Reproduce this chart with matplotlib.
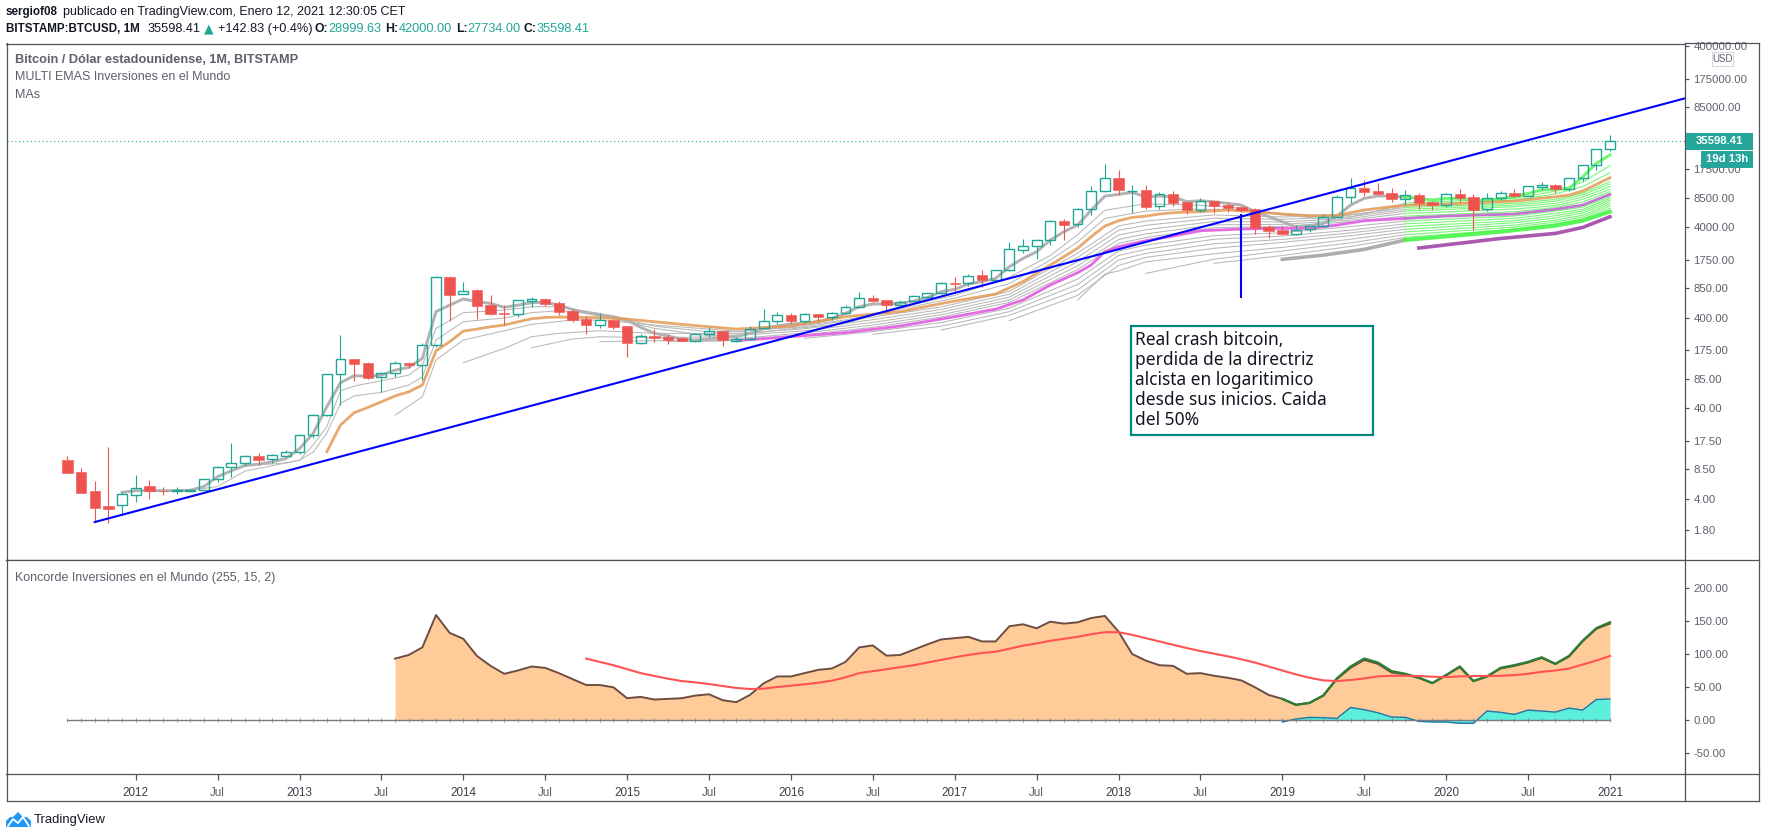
import numpy as np
import matplotlib
matplotlib.use("Agg")
import matplotlib.pyplot as plt
from matplotlib.lines import Line2D
from matplotlib.patches import Polygon, Rectangle
from matplotlib.ticker import FixedLocator, FixedFormatter, NullLocator

plt.rcParams['font.family'] = ['Liberation Sans', 'DejaVu Sans']

W, H = 1766, 838

# velas mensuales, mes 0 = enero 2012
months = np.arange(-5, 109)
opens = [10.8, 7.9, 4.9, 3.35, 3.4,
         4.47, 5.57, 4.94, 4.85, 4.9, 5.1, 6.6, 9.1, 10.1, 12.1, 11, 12,
         13.1, 20.2, 33.5, 95, 139, 126, 88, 97.5, 126, 122, 202, 1120,
         726, 810, 555, 455, 445, 620, 645, 582, 475, 388, 336, 378,
         325, 213, 253, 245, 239, 224, 263, 284, 224, 234, 309, 372,
         427, 368, 438, 412, 448, 522, 665, 630, 555, 610, 686, 746,
         961, 961, 1188, 1047, 1336, 2260, 2455, 2890, 4690, 4300, 6410, 9980,
         13960, 9980, 10300, 6900, 9230, 7590, 6250, 7730, 7030, 6640, 6300, 3990,
         3760, 3400, 3790, 4090, 5240, 8550, 10840, 9950, 9560, 8270, 9080, 7590,
         7100, 9230, 8610, 6410, 8420, 9470, 8850, 11220, 11590, 10640, 13870, 19600,
         28999.63]
highs = [11.9, 8.8, 6.3, 15, 4.8,
         7.4, 6.5, 5.4, 5.4, 5.2, 6.7, 9.2, 16.6, 12.4, 12.9, 12.6, 13.9,
         20.8, 34.7, 96, 258, 141, 130, 100, 133, 131, 210, 1156, 1160,
         985, 830, 714, 555, 630, 680, 655, 613, 500, 417, 449, 384,
         327, 265, 301, 263, 245, 269, 316, 288, 248, 328, 502, 464,
         456, 449, 445, 467, 552, 766, 716, 635, 625, 710, 755, 986,
         1130, 1225, 1350, 1340, 2730, 2965, 2945, 4760, 4900, 6500, 11400, 19950,
         17130, 11700, 11700, 9730, 10000, 7770, 8420, 7760, 7400, 6800, 6500, 4240,
         4170, 4200, 4090, 5600, 9080, 13870, 13270, 12300, 10840, 10300, 9470, 7850,
         9470, 10570, 9310, 9550, 10120, 10570, 11400, 12730, 12000, 14000, 19700, 29000,
         42000]
lows = [7.8, 4.7, 2.25, 2.2, 2.7,
        3.7, 4.0, 4.4, 4.5, 4.85, 5.1, 6.2, 7.0, 9.2, 9.4, 10.1, 11.8,
        12.6, 19, 33, 43.7, 81, 85, 61, 88, 111, 82, 190, 372,
        726, 388, 430, 333, 412, 525, 540, 430, 360, 265, 311, 300,
        148, 205, 218, 205, 222, 217, 248, 197, 218, 228, 299, 345,
        345, 355, 369, 379, 437, 510, 598, 449, 532, 605, 680, 735,
        747, 897, 880, 1040, 1320, 2060, 1795, 2570, 2890, 4020, 5460, 9900,
        9080, 5780, 6410, 6410, 6900, 5600, 5940, 5800, 5940, 5940, 3370, 3070,
        3280, 3310, 3550, 4050, 5200, 7350, 8850, 9000, 7650, 7030, 6350, 6200,
        6680, 7650, 3720, 5990, 7980, 8560, 8850, 10300, 9550, 10120, 13060, 17260,
        27734]
closes = [7.8, 4.7, 3.2, 3.1, 4.5,
          5.25, 4.9, 4.85, 5.0, 5.1, 6.6, 9.1, 10.1, 12.0, 10.8, 12.4, 13.1,
          20.2, 33.5, 95, 139, 125, 87, 97.5, 126, 122, 202, 1120, 720,
          795, 545, 440, 445, 624, 640, 568, 462, 380, 333, 376, 318,
          213, 250, 241, 227.5, 224, 263, 284, 226, 234, 301, 372, 427,
          368, 438, 410, 449, 522, 658, 614, 552, 604, 690, 746, 961,
          950, 1167, 1047, 1336, 2281, 2455, 2870, 4645, 4270, 6410, 9980, 13870,
          10200, 10160, 6760, 9230, 7460, 6190, 7730, 6920, 6510, 6190, 3920, 3630,
          3400, 3760, 4090, 5240, 8550, 10740, 9860, 9310, 8200, 9000, 7400, 7030,
          9230, 8340, 6200, 8470, 9470, 8850, 11300, 11590, 10570, 13870, 19600, 28970,
          35598.41]

# medias gruesas, precios
ema5_months = np.arange(-1, 94)
ema5 = [4.74, 4.95, 4.95, 4.95, 4.95, 5.0, 5.5, 7.06, 8.2, 9.4, 9.7, 10.3, 11.2,
        14.4, 21.2, 41.8, 77, 92, 91, 93.4, 106, 113.6, 143, 468, 553,
        646, 603, 578, 522, 553, 588, 593, 553, 495, 456, 430, 412,
        378, 314, 270, 252, 233, 228, 233, 244, 248, 270, 306, 325,
        342, 348, 363, 395, 449, 532, 569, 569, 578, 614, 668, 778,
        826, 946, 1004, 1092, 1466, 1811, 2147, 2890, 3570, 4230, 6190, 8830,
        9220, 9700, 8680, 8830, 8680, 7660, 7850, 7660, 7340, 7030, 5940, 5240,
        4600, 4050, 4160, 4410, 5320, 7030, 8340, 8850, 8850, 8600]
ema5_green_months = np.arange(93, 109)
ema5_green = [8600, 8340, 7990, 8340, 8340, 7990, 7850, 8340, 8690, 9460, 10300,
              10480, 10650, 14400, 20300, 25100]
ema20_months = [14, 15, 16, 17, 18, 19, 20, 21, 22, 23, 24, 25, 26, 27, 28, 29, 30, 31, 34,
                36, 40, 44, 48, 52, 56, 60, 63, 65, 67, 69, 70, 71, 72, 73, 74, 75, 76, 77,
                78, 80, 82, 84, 86, 88, 90, 92, 93, 96, 101, 104, 105, 106, 107, 108]
ema20 = [13.3, 26.2, 35.9, 41, 47.4, 55, 61, 72.5, 173, 218, 286, 301, 319, 333, 362, 391, 404, 408, 402,
         388, 339, 301, 325, 412, 469, 614, 733, 1005, 1531, 2344, 3148, 4120, 4720, 5140, 5310, 5600, 5780, 5890,
         5940, 6200, 5940, 5600, 5370, 5410, 6200, 6750, 6980, 7210, 7780, 8690, 9060, 10050, 11880, 14090]
ema50_months = [44, 48, 52, 56, 60, 63, 65, 67, 69, 70, 71, 72, 74, 76, 78, 81, 83, 86, 88, 90, 93,
                96, 101, 104, 106, 108]
ema50 = [224, 248, 275, 325, 412, 500, 630, 922, 1260, 1531, 2152, 2440, 2840, 3200, 3660, 3820, 3890, 3890,
         4230, 4720, 5010, 5320, 5600, 6310, 7030, 9220]
ema100_months = [94, 100, 104, 106, 108]
ema100 = [2360, 3010, 3420, 3980, 5220]
ema90_months = [84, 87, 90, 93, 100, 104, 106, 108]
ema90 = [1770, 1970, 2280, 2890, 3570, 4160, 4720, 5940]

# medias finas: mes y log10 del precio
ema10_months = [4, 6, 8, 11, 12, 13, 14, 15, 16, 17, 18, 20, 21, 22, 24, 27, 29, 31, 34, 35, 38, 42,
                44, 48, 52, 56, 60, 64, 67, 69, 71, 74, 77, 80, 84, 88, 92, 93, 101, 104, 106, 108]
ema10 = [.70, .74, .91, 1.0, 1.03, 1.2, 1.4, 1.797, 1.849, 1.879, 1.908, 1.97, 2.08, 2.486, 2.659, 2.688,
         2.725, 2.725, 2.651, 2.596, 2.486, 2.405, 2.413, 2.48, 2.54, 2.72, 2.85, 3.05, 3.29, 3.52, 3.79,
         3.86, 3.85, 3.83, 3.74, 3.68, 3.82, 3.87, 3.921, 4.0, 4.10, 4.281]
ema15_months = [9, 11, 12, 13, 14, 15, 16, 18, 20, 21, 22, 24, 27, 29, 31, 34, 38, 42, 44, 48, 52, 56,
                60, 64, 67, 69, 71, 74, 77, 80, 84, 88, 92, 93, 101, 104, 106, 108]
ema15 = [.98, 1.0, 1.03, 1.12, 1.33, 1.658, 1.74, 1.78, 1.86, 1.95, 2.357, 2.56, 2.60, 2.66, 2.68, 2.65,
         2.51, 2.449, 2.45, 2.50, 2.58, 2.70, 2.82, 2.98, 3.24, 3.44, 3.70, 3.78, 3.80, 3.80, 3.75, 3.72,
         3.80, 3.85, 3.902, 3.97, 4.05, 4.204]
tail_months = [44, 49, 54, 59, 64, 69, 72, 74, 79, 84, 89, 93, 101, 104, 106, 108]
ema25_months = [19, 21, 22, 24, 27, 29, 32, 34, 38, 43] + tail_months
ema25 = [1.529, 1.731, 2.136, 2.357, 2.46, 2.53, 2.578, 2.578, 2.523, 2.467,
         2.453, 2.504, 2.611, 2.722, 2.894, 3.316, 3.617, 3.671, 3.738, 3.716, 3.738, 3.82, 3.866, 3.91, 3.98, 4.105]
ema30_months = [24, 27, 29, 31, 34, 38, 43] + tail_months
ema30 = [2.107, 2.265, 2.394, 2.431, 2.46, 2.431, 2.431,
         2.431, 2.482, 2.582, 2.694, 2.863, 3.27, 3.568, 3.624, 3.702, 3.69, 3.719, 3.80, 3.847, 3.89, 3.96, 4.079]
ema35_months = [29, 32, 34, 38, 43] + tail_months
ema35 = [2.273, 2.368, 2.394, 2.383, 2.394,
         2.408, 2.459, 2.552, 2.664, 2.831, 3.222, 3.516, 3.575, 3.665, 3.661, 3.70, 3.78, 3.829, 3.865, 3.935, 4.05]
ema40_months = [34, 38, 43] + tail_months
ema40 = [2.339, 2.35, 2.346,
         2.372, 2.436, 2.523, 2.636, 2.80, 3.176, 3.467, 3.529, 3.629, 3.634, 3.681, 3.755, 3.803, 3.84, 3.91, 4.02]
ema45_months = [39, 43] + tail_months
ema45 = [2.34, 2.35,
         2.36, 2.417, 2.497, 2.611, 2.773, 3.135, 3.424, 3.488, 3.597, 3.611, 3.664, 3.725, 3.774, 3.82, 3.88, 3.994]
ema55_months = tail_months[1:]
ema55 = [2.376, 2.45, 2.55, 2.71, 3.03, 3.34, 3.405, 3.51, 3.542, 3.61, 3.67, 3.726, 3.78, 3.825, 3.939]
ema60_months = tail_months[2:]
ema60 = [2.42, 2.51, 2.67, 2.97, 3.29, 3.358, 3.47, 3.505, 3.57, 3.64, 3.70, 3.755, 3.80, 3.921]
ema65_months = tail_months[3:]
ema65 = [2.468, 2.63, 2.91, 3.24, 3.313, 3.42, 3.468, 3.54, 3.61, 3.674, 3.73, 3.78, 3.902]
ema70_months = tail_months[4:]
ema70 = [2.571, 2.85, 3.18, 3.27, 3.37, 3.435, 3.51, 3.58, 3.652, 3.705, 3.76, 3.88]
ema75_months = [69, 71] + tail_months[6:]
ema75 = [2.798, 3.086, 3.12, 3.22, 3.31, 3.38, 3.47, 3.55, 3.626, 3.68, 3.735, 3.858]
ema80_months = tail_months[7:]
ema80 = [3.093, 3.25, 3.34, 3.43, 3.52, 3.604, 3.66, 3.715, 3.836]
ema85_months = tail_months[8:]
ema85 = [3.203, 3.29, 3.39, 3.49, 3.582, 3.64, 3.695, 3.81]

# directriz y linea vertical
trend_months = [-3, 113.5]
trend_prices = [2.23, 106000]
crash_month = 81
crash_prices = [663, 5546]

# panel Koncorde
marron_months = np.arange(19, 109)
marron = [93, 98.5, 110, 159, 132, 123, 97, 82, 70, 75, 81, 79, 71, 62, 53, 53, 49.5,
          33, 35, 31, 32, 33, 37, 39, 30, 27, 38, 55.5, 66,
          66, 71, 76, 78, 88, 110, 113, 97.5, 98.5, 106.5, 114.6, 122,
          124, 126, 119, 119, 142, 145, 139, 149, 146, 148, 154.5, 157.6,
          134, 100, 90, 83, 82, 70, 71, 67, 64, 60, 49.5, 38,
          32, 23, 26, 37, 62, 79, 91, 85, 72, 69, 64, 56,
          68, 80, 59, 66, 78, 82, 87, 94, 85, 96, 119, 138,
          146]
verde_months = np.arange(84, 109)
verde = [32, 23, 26, 37, 63, 81, 93, 87, 74, 70, 64, 56,
         68, 81, 59, 66, 79, 83, 88, 95, 85, 97, 120, 139, 148]
media_months = np.arange(33, 109)
media = [93, 88, 83, 77, 71, 66.7, 62.6, 59, 57, 54.5, 51.5, 48.5, 47, 47.5, 50,
         52, 54, 56.5, 59.6, 64.6, 71, 74, 77, 80, 83, 87, 91,
         95, 98.5, 101.5, 103.5, 108, 112.6, 116, 120, 123, 126, 130, 133,
         133, 129, 124, 119, 114, 109, 104.5, 100.5, 96.5, 92, 87, 81,
         75, 69, 64, 60, 59, 60.6, 63, 66, 67, 67, 66.7, 65.6,
         65, 66, 66.7, 66.7, 67, 68, 70, 73, 75, 78, 84, 90, 97]
azul_months = np.arange(84, 109)
azul = [-3, 1.5, 4, 3.5, 2.5, 19, 15.6, 11, 4.5, 4, -2, -3,
        -3, -5, -5, 13.6, 11.6, 8.5, 15, 13.6, 12, 18, 15, 31, 32]

price_ticks = [400000, 175000, 85000, 17500, 8500, 4000, 1750, 850, 400, 175, 85, 40, 17.5, 8.5, 4, 1.8]
osc_ticks = [200, 150, 100, 50, 0, -50]
time_ticks = [0, 6, 12, 18, 24, 30, 36, 42, 48, 54, 60, 66, 72, 78, 84, 90, 96, 102, 108]
time_labels = ['2012', 'Jul', '2013', 'Jul', '2014', 'Jul', '2015', 'Jul', '2016', 'Jul',
               '2017', 'Jul', '2018', 'Jul', '2019', 'Jul', '2020', 'Jul', '2021']

UP = '#1fa695'
DOWN = '#ef5350'
FRAME = '#50535e'
TEXT = '#5d606b'
DARK = '#131722'
THIN = '#b8b8b8'
LIME = '#78f578'


def fx(x):
    return x / W


def fy(y):
    return 1 - y / H


def frame_line(x0, y0, x1, y1):
    fig.add_artist(Line2D([fx(x0), fx(x1)], [fy(y0), fy(y1)], color=FRAME, lw=0.9))


def put_text(x, y, s, **kw):
    fig.text(fx(x), fy(y), s, va='center', **kw)


def draw_thin(ms, logs):
    # hasta oct 2019 en gris, despues en verde
    ms = np.array(ms)
    prices = 10 ** np.array(logs)
    old = ms <= 93
    new = ms >= 93
    ax.plot(ms[old], prices[old], color=THIN, lw=0.75, zorder=3)
    ax.plot(ms[new], prices[new], color=LIME, lw=0.8, zorder=3)


fig = plt.figure(figsize=(W / 100, H / 100), dpi=100)
left, right = 6.5, 1685
ax = fig.add_axes([fx(left), fy(560), fx(right - left), (560 - 43.5) / H])
ax2 = fig.add_axes([fx(left), fy(774), fx(right - left), (774 - 560) / H])

# velas por encima de las medias, las verdes huecas
for m, o, h, l, c in zip(months, opens, highs, lows, closes):
    col = UP if c >= o else DOWN
    ax.vlines(m, max(o, c), h, color=col, lw=0.8, zorder=5.5)
    ax.vlines(m, l, min(o, c), color=col, lw=0.8, zorder=5.5)
    if c >= o:
        ax.bar(m, c - o, bottom=o, width=0.72, facecolor='none', edgecolor=col, lw=1.0, zorder=5.5)
    else:
        ax.bar(m, o - c, bottom=c, width=0.76, facecolor=col, edgecolor=col, lw=0.4, zorder=5.5)

for ms, vals in [(ema10_months, ema10), (ema15_months, ema15), (ema25_months, ema25),
                 (ema30_months, ema30), (ema35_months, ema35), (ema40_months, ema40),
                 (ema45_months, ema45), (ema55_months, ema55), (ema60_months, ema60),
                 (ema65_months, ema65), (ema70_months, ema70), (ema75_months, ema75),
                 (ema80_months, ema80), (ema85_months, ema85)]:
    draw_thin(ms, vals)

ax.plot(ema5_months, ema5, color='#b2b2b2', lw=2.1, zorder=4)
ax.plot(ema5_green_months, ema5_green, color='#55f555', lw=2.1, alpha=0.85, zorder=4)
ax.plot(ema20_months, ema20, color='#e39a55', lw=2.0, alpha=0.85, zorder=5)
ema50_arr = np.array(ema50)
ema50_m = np.array(ema50_months)
ax.plot(ema50_m[ema50_m <= 93], ema50_arr[ema50_m <= 93], color='#e36ae3', lw=2.0, zorder=5)
ax.plot(ema50_m[ema50_m >= 93], ema50_arr[ema50_m >= 93], color='#c275cf', lw=2.0, zorder=5)
ema90_m = np.array(ema90_months)
ema90_arr = np.array(ema90)
ax.plot(ema90_m[ema90_m <= 93], ema90_arr[ema90_m <= 93], color='#adadad', lw=2.6, zorder=4)
ax.plot(ema90_m[ema90_m >= 93], ema90_arr[ema90_m >= 93], color='#45f545', lw=2.8, alpha=0.9, zorder=4)
ax.plot(ema100_months, ema100, color='#ab58b0', lw=2.6, zorder=5)

ax.plot(trend_months, trend_prices, color='#0000ff', lw=1.5, zorder=6)
ax.vlines(crash_month, crash_prices[0], crash_prices[1], color='#0000ff', lw=1.5, zorder=6)
ax.axhline(closes[-1], color=UP, lw=0.8, ls=(0, (1, 2.5)), zorder=0)

ax.set_yscale('log')
ax.set_xlim(-9.465, 113.5)
ax.set_ylim(0.85, 427000)
ax.yaxis.set_major_locator(FixedLocator(price_ticks))
ax.yaxis.set_major_formatter(FixedFormatter(['%.2f' % p for p in price_ticks]))
ax.yaxis.set_minor_locator(NullLocator())
ax.yaxis.tick_right()
ax.tick_params(axis='y', length=3, width=0.9, color=FRAME, labelcolor=TEXT, labelsize=8.2, pad=3)
ax.set_xticks([])

# panel inferior
ax2.fill_between(marron_months, 0, marron, color='#ffcc99', lw=0, zorder=1)
ax2.plot(marron_months, marron, color='#6d4c41', lw=1.4, zorder=3)
ax2.plot(verde_months, verde, color='#2e7d32', lw=1.7, zorder=4)
ax2.fill_between(azul_months, 0, azul, color='#5cefdc', lw=0, zorder=2)
ax2.plot(azul_months, azul, color='#1976a8', lw=1.0, zorder=3)
ax2.plot(media_months, media, color='#ff5252', lw=1.5, zorder=5)
ax2.plot(months, np.zeros(len(months)), color='#787b86', lw=1.0, marker='|', ms=2.2, mew=0.5, zorder=4)
ax2.set_xlim(-9.465, 113.5)
ax2.set_ylim(-81.8, 242.4)
ax2.set_yticks(osc_ticks)
ax2.set_yticklabels(['%.2f' % v for v in osc_ticks])
ax2.yaxis.tick_right()
ax2.tick_params(axis='y', length=3, width=0.9, color=FRAME, labelcolor=TEXT, labelsize=8.2, pad=3)
ax2.set_xticks(time_ticks)
ax2.set_xticklabels(time_labels)
ax2.tick_params(axis='x', length=4, width=0.9, color=FRAME, labelcolor=TEXT, labelsize=8.4, pad=5)
for lab in ax2.get_xticklabels():
    if lab.get_text() != 'Jul':
        lab.set_color('#3c3f4a')

for a in (ax, ax2):
    for s in a.spines.values():
        s.set_color(FRAME)
        s.set_linewidth(0.9)

# marco exterior
frame_line(right, 43.5, 1759, 43.5)
frame_line(right, 560, 1759, 560)
frame_line(right, 774, 1759, 774)
frame_line(left, 801, 1759, 801)
frame_line(1759, 43.5, 1759, 801)
frame_line(left, 774, left, 801)
frame_line(right, 774, right, 801)

# cabecera
put_text(6, 12, 'sergiof08', fontsize=8.4, fontweight='bold', color=DARK)
put_text(63, 12, 'publicado en TradingView.com, Enero 12, 2021 12:30:05 CET', fontsize=9.0, color=DARK)
put_text(6, 29, 'BITSTAMP:BTCUSD, 1M', fontsize=8.4, fontweight='bold', color=DARK)
put_text(148, 29, '35598.41', fontsize=9.2, color=DARK)
put_text(204, 29, '▲', fontsize=9, color=UP, family=['DejaVu Sans'])
put_text(218, 29, '+142.83 (+0.4%)', fontsize=9.2, color=DARK)
for x0, lab, x1, val in [(314.6, 'O:', 328, '28999.63'), (385, 'H:', 399, '42000.00'),
                         (456, 'L:', 467.6, '27734.00'), (524, 'C:', 536.5, '35598.41')]:
    put_text(x0, 29, lab, fontsize=8.8, fontweight='bold', color=DARK)
    put_text(x1, 29, val, fontsize=9.2, color=UP)

put_text(15, 60, 'Bitcoin / Dólar estadounidense, 1M, BITSTAMP', fontsize=9.2, fontweight='bold', color=TEXT)
put_text(15, 77, 'MULTI EMAS Inversiones en el Mundo', fontsize=9.0, color=TEXT)
put_text(15, 94.6, 'MAs', fontsize=9.0, color=TEXT)
put_text(15, 577.7, 'Koncorde Inversiones en el Mundo (255, 15, 2)', fontsize=9.0, color=TEXT)

# etiquetas de precio
fig.add_artist(Rectangle((fx(1686), fy(150)), 67 / W, 17 / H, color='#26a69a', lw=0, zorder=10))
fig.add_artist(Rectangle((fx(1701), fy(168)), 52 / W, 17 / H, color='#26a69a', lw=0, zorder=10))
fig.text(fx(1719.5), fy(141.5), '35598.41', ha='center', va='center', fontsize=8.2, fontweight='bold', color='white', zorder=11)
fig.text(fx(1727), fy(159.5), '19d 13h', ha='center', va='center', fontsize=8.2, fontweight='bold', color='white', zorder=11)
fig.add_artist(Rectangle((fx(1712), fy(66)), 21 / W, 14 / H, fc='white', ec='#d6d8e0', lw=0.8, zorder=10))
fig.text(fx(1722.5), fy(59), 'USD', ha='center', va='center', fontsize=7, color=TEXT, zorder=11)

# nota
fig.add_artist(Rectangle((fx(1131), fy(435)), 242 / W, 109 / H, fc='white', ec='#00897b', lw=1.6, zorder=10))
note_lines = ['Real crash bitcoin,', 'perdida de la directriz', 'alcista en logaritimico',
              'desde sus inicios. Caida', 'del 50%']
for n, s in enumerate(note_lines):
    fig.text(fx(1135), fy(340 + n * 20), s, va='center', fontsize=12.5, family=['Noto Sans', 'DejaVu Sans'], color=DARK, zorder=11)

# logo
logo = [(6, 827), (6, 821), (10, 817), (13, 817), (18, 812), (23, 817), (27, 817), (31, 821), (31, 827)]
fig.add_artist(Polygon([(fx(x), fy(y)) for x, y in logo], closed=True, fc='#2196f3', ec='none'))
fig.add_artist(Line2D([fx(8), fx(13), fx(18), fx(23), fx(29)], [fy(826), fy(819), fy(823), fy(817), fy(826)], color='white', lw=1.3))
put_text(34, 820, 'TradingView', fontsize=9.4, color=DARK)

fig.savefig('out.png', dpi=100)
